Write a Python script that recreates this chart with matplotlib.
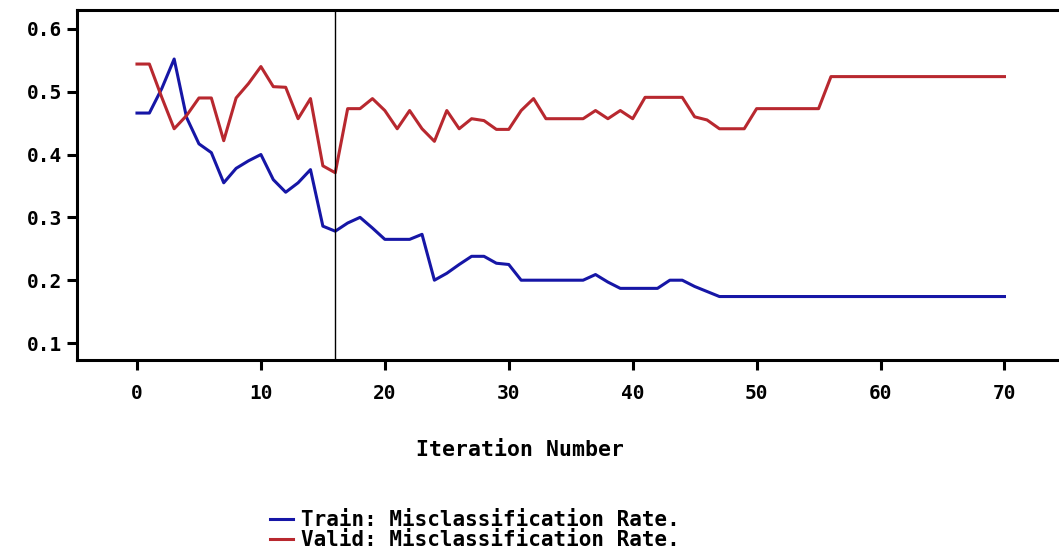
import matplotlib
matplotlib.use("Agg")
import matplotlib.pyplot as plt
import numpy as np

iterations = list(range(71))

train_rate = [0.466, 0.466, 0.505, 0.552, 0.459, 0.417, 0.403, 0.355, 0.378, 0.390,
              0.400, 0.360, 0.340, 0.355, 0.376, 0.286, 0.278, 0.291, 0.300, 0.283,
              0.265, 0.265, 0.265, 0.273, 0.200, 0.211, 0.225, 0.238, 0.238, 0.227,
              0.225, 0.200, 0.200, 0.200, 0.200, 0.200, 0.200, 0.209, 0.197, 0.187,
              0.187, 0.187, 0.187, 0.200, 0.200, 0.190, 0.182] + [0.174] * 24

valid_rate = [0.544, 0.544, 0.491, 0.441, 0.462, 0.490, 0.490, 0.422, 0.490, 0.513,
              0.540, 0.508, 0.507, 0.457, 0.489, 0.382, 0.371, 0.473, 0.473, 0.489,
              0.470, 0.441, 0.470, 0.441, 0.421, 0.470, 0.441, 0.457, 0.454, 0.440,
              0.440, 0.470, 0.489, 0.457, 0.457, 0.457, 0.457, 0.470, 0.457, 0.470,
              0.457, 0.491, 0.491, 0.491, 0.491, 0.460, 0.455, 0.441, 0.441, 0.441,
              0.473, 0.473, 0.473, 0.473, 0.473, 0.473] + [0.524] * 15

selected_iteration = 16
x_ticks = [0, 10, 20, 30, 40, 50, 60, 70]
y_ticks = [0.1, 0.2, 0.3, 0.4, 0.5, 0.6]

FONT = dict(family="DejaVu Sans Mono", weight="bold")

fig = plt.figure(figsize=(10.59, 5.6), dpi=100)
ax = fig.add_axes([77 / 1059, 1 - 360 / 560, 1 - 77 / 1059, 350 / 560])

ax.plot(iterations, train_rate, color="#1616a6", linewidth=2.2, label="Train: Misclassification Rate.")
ax.plot(iterations, valid_rate, color="#b8282f", linewidth=2.2, label="Valid: Misclassification Rate.")
ax.axvline(selected_iteration, color="black", linewidth=1.0)

ax.set_xlim(-4.84, 74.4)
ax.set_ylim(0.073, 0.630)
ax.set_xticks(x_ticks)
ax.set_yticks(y_ticks)
ax.set_xticklabels([str(t) for t in x_ticks], fontsize=14, **FONT)
ax.set_yticklabels([f"{t:.1f}" for t in y_ticks], fontsize=14, **FONT)
ax.tick_params(direction="out", length=7, width=2.2, pad=10)
ax.tick_params(axis="y", pad=4)
for side in ("left", "bottom", "top"):
    ax.spines[side].set_linewidth(2.2)
ax.spines["right"].set_visible(False)

fig.text(520 / 1059, 1 - 450 / 560, "Iteration Number", ha="center", va="center", fontsize=15.5, **FONT)

fig.legend(loc="upper left", bbox_to_anchor=(270 / 1059, 1 - 510 / 560), frameon=False,
           prop=dict(family="DejaVu Sans Mono", weight="bold", size=15),
           handlelength=1.1, handletextpad=0.4, labelspacing=0.0, borderaxespad=0, borderpad=0)

fig.savefig("out.png", dpi=100)
